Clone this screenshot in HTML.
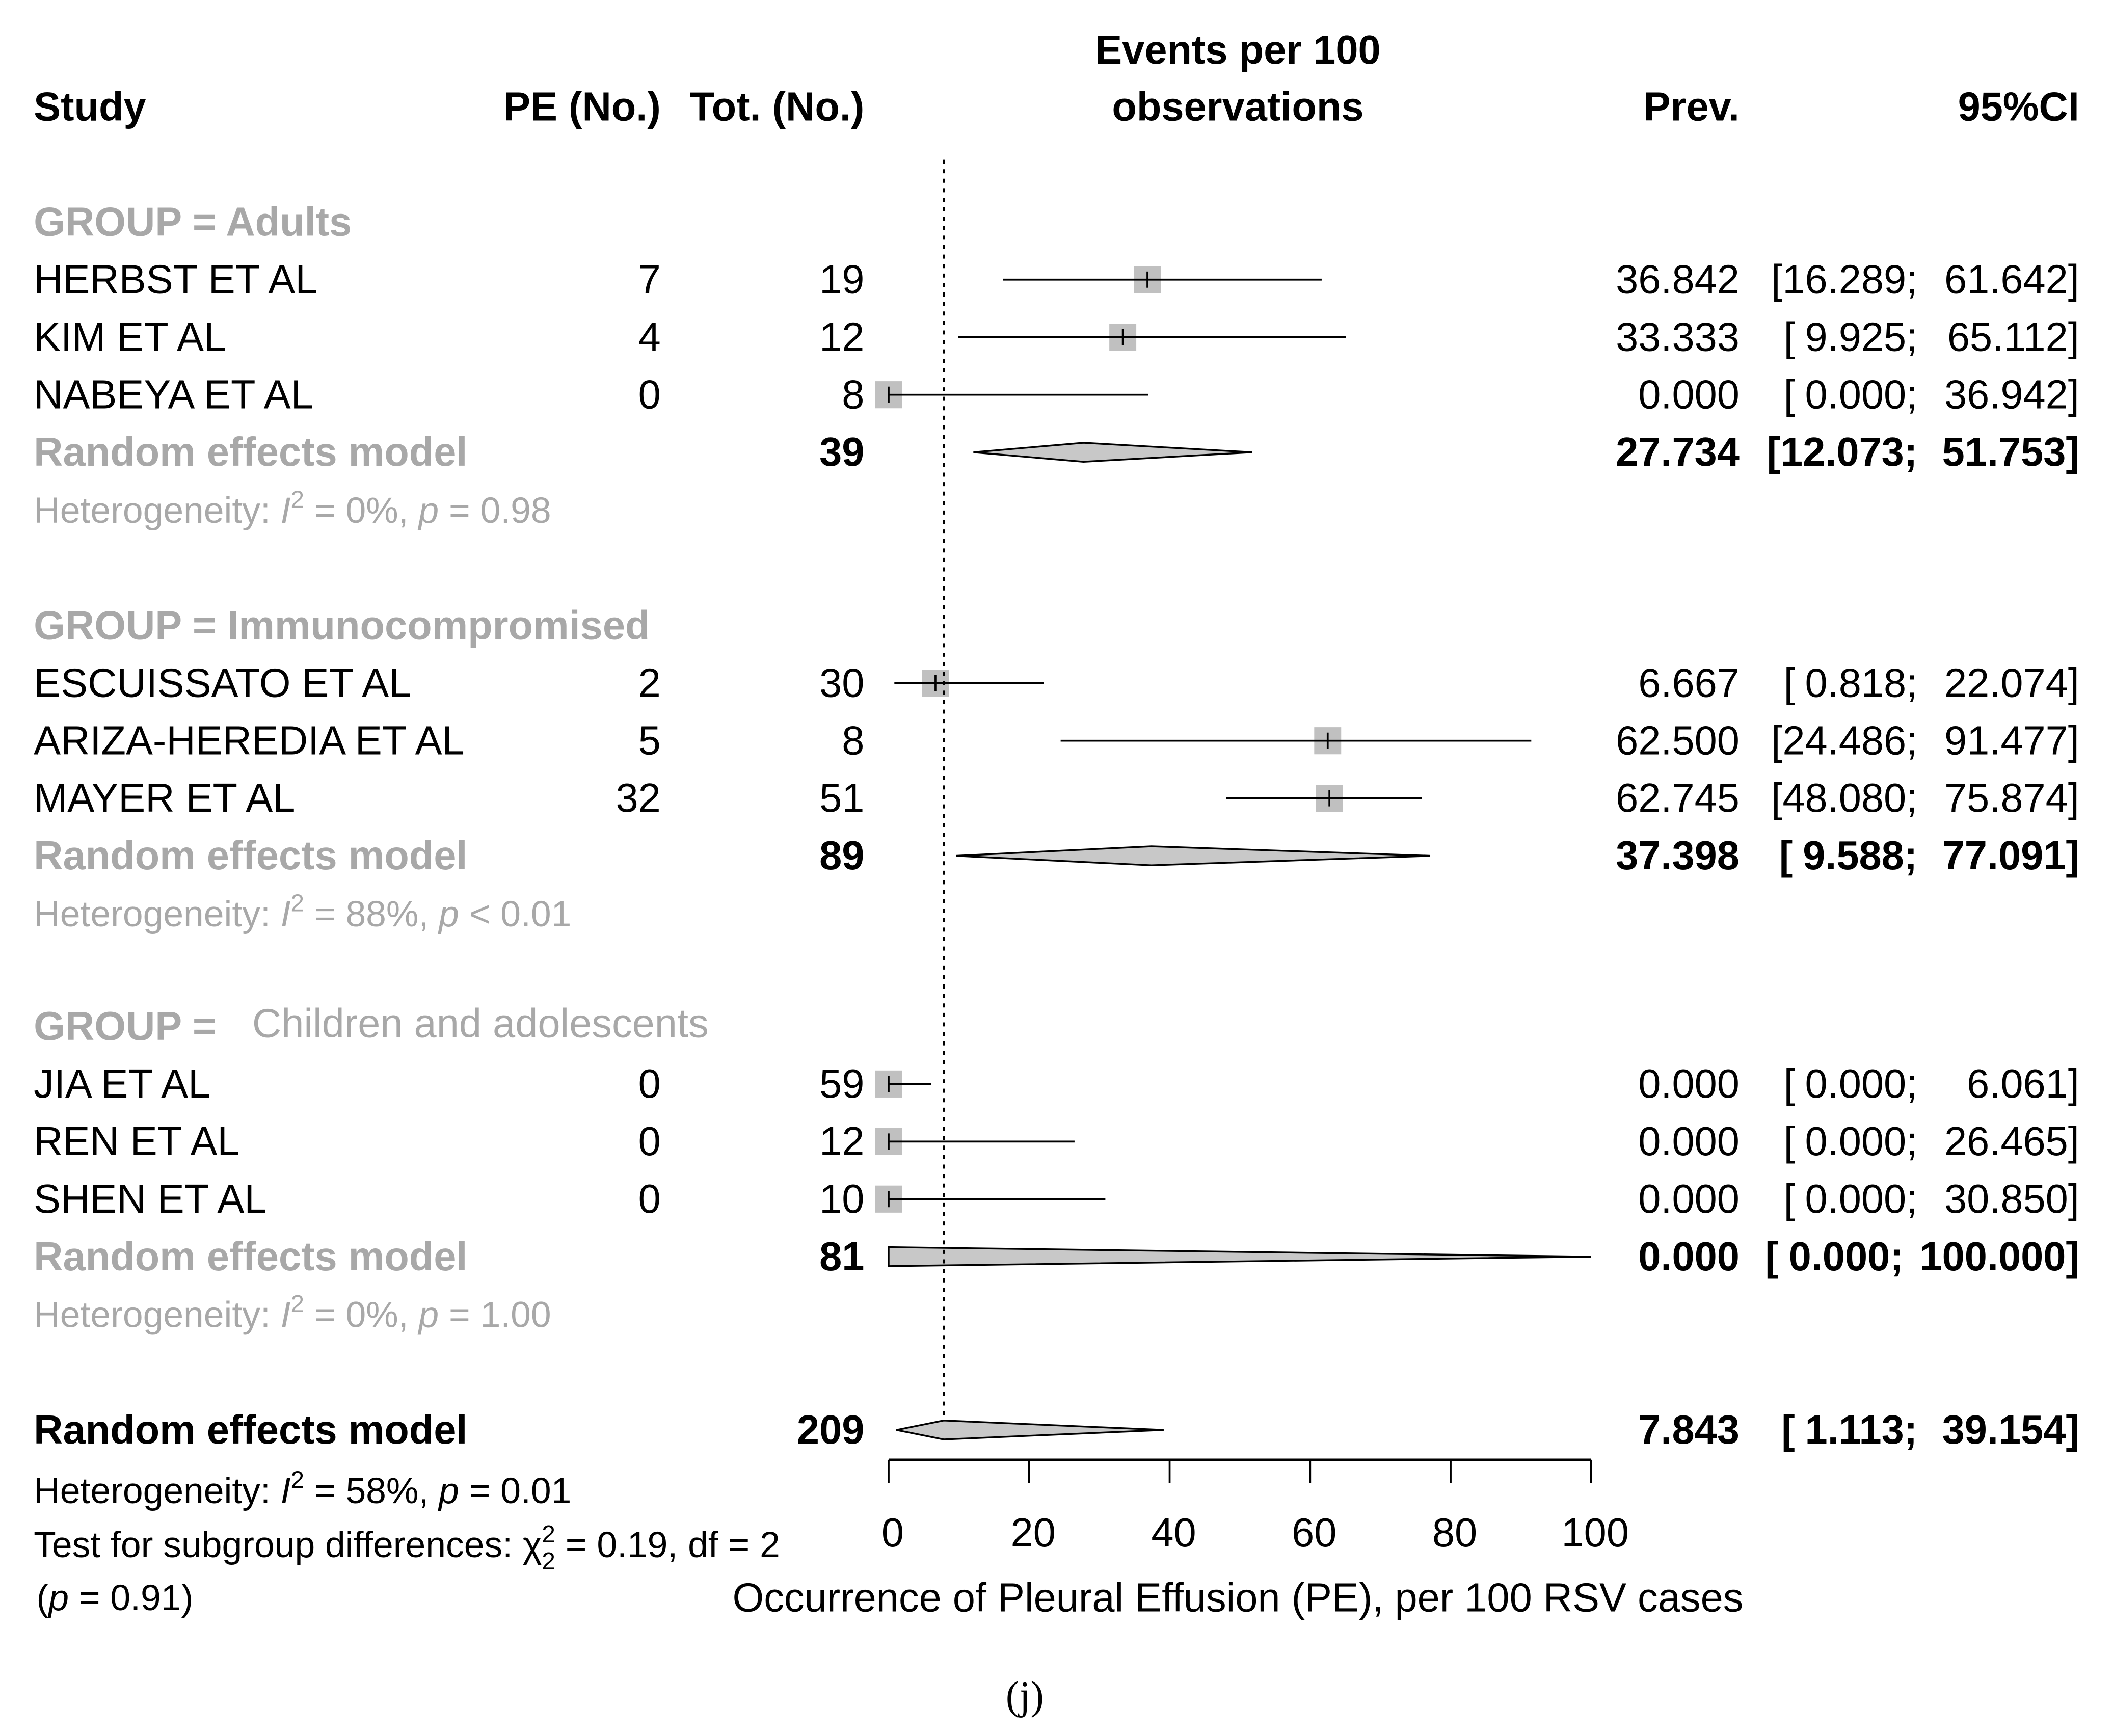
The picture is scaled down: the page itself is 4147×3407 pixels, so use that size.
<!DOCTYPE html>
<html><head><meta charset="utf-8"><style>
html,body{margin:0;padding:0;background:#fff}
svg{display:block}
text{font-family:"Liberation Sans",Arial,sans-serif;font-size:30px;fill:#000}
.b{font-weight:bold}
.g{fill:#a8a8a8}
.s{font-size:27px}
.r{text-anchor:end}
.m{text-anchor:middle}
</style></head><body>
<svg id="chart" width="4147" height="3407" viewBox="0 0 1567 1282" preserveAspectRatio="none" xmlns="http://www.w3.org/2000/svg">
<g>
<text class="b" x="25" y="89">Study</text>
<text class="b r" x="490" y="89">PE (No.)</text>
<text class="b r" x="641" y="89">Tot. (No.)</text>
<text class="b m" x="918" y="47">Events per 100</text>
<text class="b m" x="918" y="89">observations</text>
<text class="b r" x="1290" y="89">Prev.</text>
<text class="b r" x="1542" y="89">95%CI</text>
</g>
<g id="rows"></g>
<g id="marks"></g>
<g id="axis"></g>
<text class="s" x="25" y="1110">Heterogeneity: <tspan font-style="italic">I</tspan><tspan dy="-11" font-size="18">2</tspan><tspan dy="11"> = 58%, </tspan><tspan font-style="italic">p</tspan> = 0.01</text>
<text class="s" x="25" y="1150">Test for subgroup differences: χ<tspan dy="-11" font-size="18">2</tspan><tspan dx="-10" dy="20" font-size="18">2</tspan><tspan dy="-9"> = 0.19, df = 2</tspan></text>
<text class="s" x="27" y="1189">(<tspan font-style="italic">p</tspan> = 0.91)</text>
<text class="m" x="918" y="1190">Occurrence of Pleural Effusion (PE), per 100 RSV cases</text>
<text class="m" x="760" y="1262" style="font-family:'Liberation Serif',serif;font-size:30px">(j)</text>
</svg>
<script>
// data
const studyNames=["HERBST ET AL","KIM ET AL","NABEYA ET AL","ESCUISSATO ET AL","ARIZA-HEREDIA ET AL","MAYER ET AL","JIA ET AL","REN ET AL","SHEN ET AL"];
const studyEvents=[7,4,0,2,5,32,0,0,0];
const studyTotals=[19,12,8,30,8,51,59,12,10];
const studyPrev=[36.842,33.333,0.000,6.667,62.500,62.745,0.000,0.000,0.000];
const studyLower=[16.289,9.925,0.000,0.818,24.486,48.080,0.000,0.000,0.000];
const studyUpper=[61.642,65.112,36.942,22.074,91.477,75.874,6.061,26.465,30.850];
const groupLabels=["Adults","Immunocompromised","Children and adolescents"];
const groupTotals=[39,89,81];
const groupPrev=[27.734,37.398,0.000];
const groupLower=[12.073,9.588,0.000];
const groupUpper=[51.753,77.091,100.000];
const groupHet=["= 0%, ","= 88%, ","= 0%, "];
const groupP=["= 0.98","< 0.01","= 1.00"];
const overallTotal=209, overallPrev=7.843, overallLower=1.113, overallUpper=39.154;
const ticks=[0,20,40,60,80,100];

const NS="http://www.w3.org/2000/svg";
const X0=659,X1=1180;
const xs=v=>X0+(X1-X0)*v/100;
const rows=document.getElementById('rows'),marks=document.getElementById('marks'),axis=document.getElementById('axis');
function el(tag,attrs,parent,txt){const e=document.createElementNS(NS,tag);for(const k in attrs)e.setAttribute(k,attrs[k]);if(txt!==undefined)e.textContent=txt;parent.appendChild(e);return e;}
const f3=v=>v.toFixed(3);
function ciText(l,u,y,cls,name){
  let ut=el('text',{x:1542,y:y,class:'r '+cls},rows,f3(u)+"]");
  
  
  const w=ut.getComputedTextLength();
  const lx=Math.min(1422,1542-w-12);
  let lt=el('text',{x:lx,y:y,class:'r '+cls},rows,"["+(l<10?"\u2005":"")+f3(l)+";");
  
  
}
const groupStart=[164,462,758];
let si=0;
groupLabels.forEach((g,gi)=>{
  const y0=groupStart[gi];
  let t;
  if(gi==2){
    t=el('text',{x:25,y:y0+10,class:'g'},rows);
    t.innerHTML='<tspan font-weight="bold">GROUP =</tspan><tspan x="187" dy="-2">'+g+'</tspan>';
  } else t=el('text',{x:25,y:y0+10,class:'b g'},rows,"GROUP = "+g);
  
  
  for(let k=0;k<3;k++,si++){
    const y=y0+42.5*(k+1);
    let n=el('text',{x:25,y:y+10},rows,studyNames[si]);
    
    
    let e=el('text',{x:490,y:y+10,class:'r'},rows,String(studyEvents[si]));
    
    
    let tt=el('text',{x:641,y:y+10,class:'r'},rows,String(studyTotals[si]));
    
    
    let p=el('text',{x:1290,y:y+10,class:'r'},rows,f3(studyPrev[si]));
    
    
    ciText(studyLower[si],studyUpper[si],y+10,'','study-ci');
    let sq=el('rect',{x:xs(studyPrev[si])-10,y:y-10,width:20,height:20,fill:'#c0c0c0'},marks);
    
    
    let ln=el('line',{x1:xs(studyLower[si]),x2:xs(studyUpper[si]),y1:y,y2:y,stroke:'#000','stroke-width':1.4},marks);
    
    
    let tk=el('line',{x1:xs(studyPrev[si]),x2:xs(studyPrev[si]),y1:y-6,y2:y+6,stroke:'#000','stroke-width':1.4},marks);
    
    
  }
  const yr=y0+42.5*4;
  let r=el('text',{x:25,y:yr+10,class:'b g'},rows,"Random effects model");
  
  
  let rt=el('text',{x:641,y:yr+10,class:'b r'},rows,String(groupTotals[gi]));
  
  
  let rp=el('text',{x:1290,y:yr+10,class:'b r'},rows,f3(groupPrev[gi]));
  
  
  ciText(groupLower[gi],groupUpper[gi],yr+10,'b','subgroup-ci');
  let d=el('polygon',{points:`${xs(groupLower[gi])},${yr} ${xs(groupPrev[gi])},${yr-7} ${xs(groupUpper[gi])},${yr} ${xs(groupPrev[gi])},${yr+7}`,fill:'#c8c8c8',stroke:'#000','stroke-width':1.3},marks);
  
  
  const yh=yr+44;
  let h=el('text',{x:25,y:yh+8,class:'g s'},rows);
  
  
  h.innerHTML=`Heterogeneity: <tspan font-style="italic">I</tspan><tspan dy="-11" font-size="18">2</tspan><tspan dy="11"> ${groupHet[gi]}</tspan><tspan font-style="italic">p</tspan> ${groupP[gi]}`;
});
// overall
const yo=1056;
let ol=el('text',{x:25,y:yo+10,class:'b'},rows,"Random effects model");


let ot=el('text',{x:641,y:yo+10,class:'b r'},rows,String(overallTotal));


let op=el('text',{x:1290,y:yo+10,class:'b r'},rows,f3(overallPrev));


ciText(overallLower,overallUpper,yo+10,'b','overall-ci');
let od=el('polygon',{points:`${xs(overallLower)},${yo} ${xs(overallPrev)},${yo-7} ${xs(overallUpper)},${yo} ${xs(overallPrev)},${yo+7}`,fill:'#c8c8c8',stroke:'#000','stroke-width':1.3},marks);


let ref=el('line',{x1:xs(overallPrev),x2:xs(overallPrev),y1:118,y2:1048,stroke:'#000','stroke-width':1.6,'stroke-dasharray':'3,4'},marks);


// axis
let al=el('line',{x1:xs(0),x2:xs(100),y1:1078,y2:1078,stroke:'#000','stroke-width':1.8},axis);


ticks.forEach(v=>{
  let tl=el('line',{x1:xs(v),x2:xs(v),y1:1078,y2:1095,stroke:'#000','stroke-width':1.4},axis);
  
  
  let tx=el('text',{x:xs(v)+3,y:1142,class:'m'},axis,String(v));
  
  
});
</script>
</body></html>
